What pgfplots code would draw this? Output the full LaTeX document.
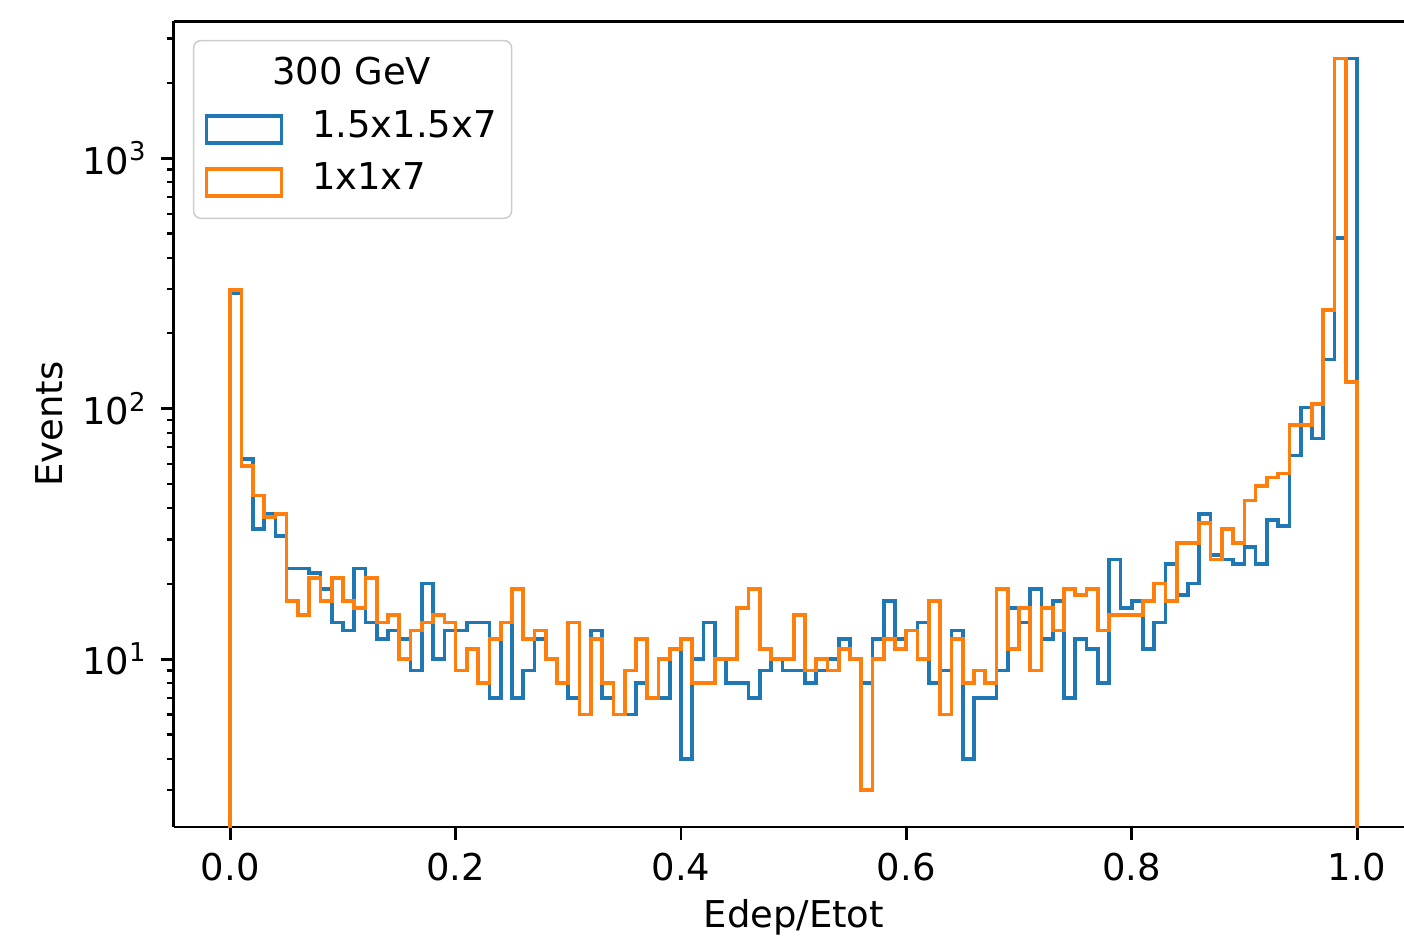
\documentclass[border=0pt]{standalone}
\usepackage{fontspec}
\setmainfont{DejaVu Sans}
\usepackage{pgfplots}
\pgfplotsset{compat=1.18}
\definecolor{tabblue}{HTML}{1F77B4}
\definecolor{taborange}{HTML}{FF7F0E}
\begin{document}
\begin{tikzpicture}
\begin{axis}[
  scale only axis,
  width=333pt, height=218.2pt,
  xmin=-0.05, xmax=1.0417,
  ymode=log, ymin=2.135, ymax=3524,
  axis x line=box, axis y line*=left,
  xtick pos=left, ytick pos=left,
  tick align=outside,
  major tick length=3.5pt, minor tick length=2pt,
  every tick/.style={black, line width=0.8pt},
  minor tick style={black, line width=0.6pt},
  axis line style={line width=0.8pt},
  xtick={0,0.2,0.4,0.6,0.8,1.0},
  xticklabels={0.0,0.2,0.4,0.6,0.8,1.0},
  ytick={10,100,1000},
  yticklabels={10\textsuperscript{1},10\textsuperscript{2},10\textsuperscript{3}},
  minor ytick={3,4,5,6,7,8,9,20,30,40,50,60,70,80,90,200,300,400,500,600,700,800,900,2000,3000},
  /pgf/number format/assume math mode=true,
  xticklabel style={inner sep=0pt, text height=7.3pt, text depth=0pt, yshift=-3.5pt},
  yticklabel style={inner sep=0pt, xshift=-3.5pt},
  xlabel={Edep/Etot},
  ylabel={Events},
  xlabel style={at={([yshift=-27.3pt]axis description cs:0.504,0)}, anchor=base},
  ylabel style={at={([xshift=-30.3pt]axis description cs:0,0.5)}, anchor=base},
  legend cell align=left,
  legend image code/.code={\draw[#1, sharp corners] (0pt,-3.65pt) rectangle (20.3pt,3.65pt);},
  legend style={at={(0,1)}, anchor=north west, xshift=5.1pt, yshift=-5.1pt,
    draw=black!20, fill=white, rounded corners=2pt, inner xsep=3pt, inner ysep=3.5pt,
    row sep=1.8pt, column sep=6.8pt,
    nodes={inner sep=1pt, text height=7.3pt, text depth=3.2pt}},
]
\coordinate (sw) at (rel axis cs:0,0);
\coordinate (ne) at (rel axis cs:1,1);
\addlegendimage{empty legend}
\addlegendentry{\hspace*{-10.8pt}300 GeV}
\addplot[const plot, tabblue, line width=1pt] coordinates {
(0.00,1)
(0.00,290) (0.01,63) (0.02,33) (0.03,38) (0.04,31) (0.05,23) (0.06,23) (0.07,22) (0.08,19) (0.09,14)
(0.10,13) (0.11,23) (0.12,14) (0.13,12) (0.14,13) (0.15,12) (0.16,9) (0.17,20) (0.18,10) (0.19,13)
(0.20,13) (0.21,14) (0.22,14) (0.23,7) (0.24,14) (0.25,7) (0.26,9) (0.27,12) (0.28,10) (0.29,8)
(0.30,7) (0.31,6) (0.32,13) (0.33,7) (0.34,6) (0.35,6) (0.36,8) (0.37,7) (0.38,7) (0.39,11)
(0.40,4) (0.41,10) (0.42,14) (0.43,10) (0.44,8) (0.45,8) (0.46,7) (0.47,9) (0.48,10) (0.49,9)
(0.50,9) (0.51,8) (0.52,9) (0.53,10) (0.54,12) (0.55,10) (0.56,8) (0.57,12) (0.58,17) (0.59,12)
(0.60,13) (0.61,14) (0.62,8) (0.63,9) (0.64,13) (0.65,4) (0.66,7) (0.67,7) (0.68,9) (0.69,16)
(0.70,14) (0.71,19) (0.72,12) (0.73,17) (0.74,7) (0.75,12) (0.76,11) (0.77,8) (0.78,25) (0.79,16)
(0.80,17) (0.81,11) (0.82,14) (0.83,24) (0.84,18) (0.85,20) (0.86,38) (0.87,26) (0.88,25) (0.89,24)
(0.90,28) (0.91,24) (0.92,36) (0.93,34) (0.94,65) (0.95,101) (0.96,76) (0.97,157) (0.98,480) (0.99,2500)
(1.00,2500) (1.00,1)
};
\addlegendentry{1.5x1.5x7}
\addplot[const plot, taborange, line width=1pt] coordinates {
(0.00,1)
(0.00,297) (0.01,59) (0.02,45) (0.03,37) (0.04,38) (0.05,17) (0.06,15) (0.07,21) (0.08,17) (0.09,21)
(0.10,17) (0.11,16) (0.12,21) (0.13,14) (0.14,15) (0.15,10) (0.16,13) (0.17,14) (0.18,15) (0.19,14)
(0.20,9) (0.21,11) (0.22,8) (0.23,12) (0.24,14) (0.25,19) (0.26,12) (0.27,13) (0.28,10) (0.29,8)
(0.30,14) (0.31,6) (0.32,12) (0.33,8) (0.34,6) (0.35,9) (0.36,12) (0.37,7) (0.38,10) (0.39,11)
(0.40,12) (0.41,8) (0.42,8) (0.43,10) (0.44,10) (0.45,16) (0.46,19) (0.47,11) (0.48,10) (0.49,10)
(0.50,15) (0.51,9) (0.52,10) (0.53,9) (0.54,11) (0.55,10) (0.56,3) (0.57,10) (0.58,12) (0.59,11)
(0.60,13) (0.61,10) (0.62,17) (0.63,6) (0.64,12) (0.65,8) (0.66,9) (0.67,8) (0.68,19) (0.69,11)
(0.70,16) (0.71,9) (0.72,16) (0.73,13) (0.74,19) (0.75,18) (0.76,19) (0.77,13) (0.78,15) (0.79,15)
(0.80,15) (0.81,17) (0.82,20) (0.83,17) (0.84,29) (0.85,29) (0.86,35) (0.87,25) (0.88,33) (0.89,29)
(0.90,43) (0.91,49) (0.92,53) (0.93,55) (0.94,86) (0.95,86) (0.96,104) (0.97,248) (0.98,2500) (0.99,128)
(1.00,128) (1.00,1)
};
\addlegendentry{1x1x7}
\end{axis}
\pgfresetboundingbox
\path[use as bounding box] ([shift={(-47.1pt,-31.4pt)}]sw) rectangle ([shift={(0pt,5.7pt)}]ne);
\end{tikzpicture}
\end{document}
